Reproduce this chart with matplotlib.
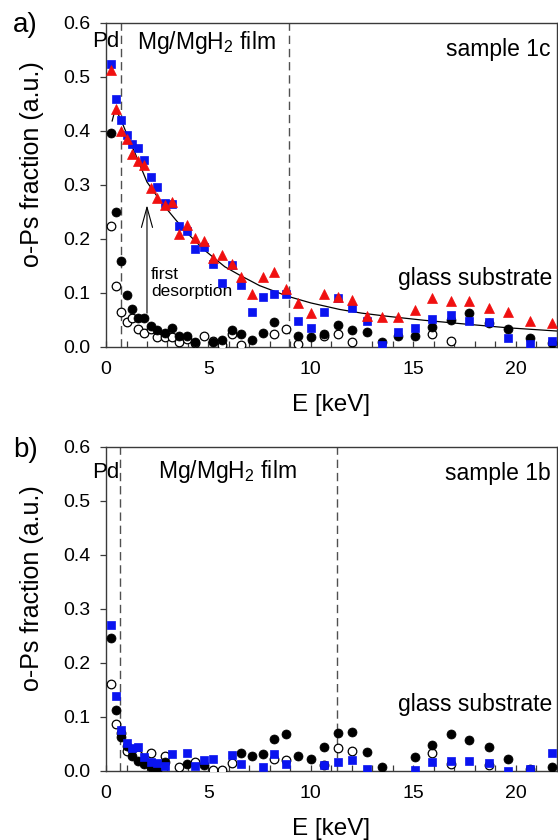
import numpy as np
import matplotlib
matplotlib.use("Agg")
import matplotlib.pyplot as plt
from matplotlib.ticker import MultipleLocator

plt.rcParams['font.family'] = ['Liberation Sans', 'DejaVu Sans']
plt.rcParams['mathtext.fontset'] = 'custom'
plt.rcParams['mathtext.rm'] = 'Liberation Sans'
plt.rcParams['mathtext.it'] = 'Liberation Sans:italic'

nan = np.nan

# positron implantation energies (keV)
energy = [0.23, 0.47, 0.75, 1.00, 1.25, 1.58, 1.87, 2.18, 2.51, 2.88,
          3.21, 3.57, 3.97, 4.35, 4.79, 5.23, 5.67, 6.14, 6.61, 7.12,
          7.66, 8.21, 8.78, 9.37, 10.00, 10.63, 11.31, 11.99, 12.74, 13.48,
          14.26, 15.08, 15.94, 16.82, 17.74, 18.70, 19.65, 20.68, 21.76]

# sample 1c
s1c_blue = [0.524, 0.459, 0.420, 0.392, 0.376, 0.368, 0.346, 0.315, 0.296, 0.266,
            0.264, 0.224, 0.215, 0.181, 0.184, 0.153, 0.118, 0.151, 0.114, 0.064,
            0.092, 0.098, 0.097, 0.048, 0.034, 0.065, 0.090, 0.072, 0.048, 0.004,
            0.027, 0.034, 0.051, 0.059, 0.048, 0.046, 0.016, 0.005, 0.011]
s1c_red = [0.513, 0.440, 0.399, 0.385, 0.357, 0.343, 0.336, 0.293, 0.275, 0.262,
           0.267, 0.209, 0.226, 0.201, 0.195, 0.164, 0.170, 0.153, 0.129, 0.097,
           0.129, 0.138, 0.107, 0.080, 0.062, 0.097, 0.092, 0.086, 0.056, 0.055,
           0.055, 0.067, 0.090, 0.085, 0.085, 0.071, 0.064, 0.048, 0.043]
s1c_black = [0.396, 0.250, 0.159, 0.096, 0.069, 0.054, 0.053, 0.038, 0.030, 0.025,
             0.034, 0.019, 0.019, 0.009, nan, 0.008, 0.012, 0.031, 0.023, 0.013,
             0.025, 0.045, nan, 0.020, 0.017, 0.024, 0.040, 0.031, 0.027, 0.008,
             0.019, 0.020, 0.037, 0.050, 0.062, 0.043, 0.032, 0.016, 0.007]
s1c_open = [0.223, 0.113, 0.065, 0.045, 0.053, 0.032, 0.025, 0.033, 0.017, 0.017,
            0.017, 0.009, 0.014, 0.006, 0.020, 0.011, 0.003, 0.024, 0.003, nan,
            nan, 0.024, 0.033, 0.005, nan, 0.020, 0.024, 0.008, nan, nan,
            nan, nan, 0.024, 0.011, nan, nan, nan, nan, nan]

# model curve for sample 1c
fit_energy = [0.30, 0.45, 0.70, 1.00, 1.40, 2.00, 2.50, 2.90, 3.40, 4.00, 4.80, 5.80,
              6.50, 7.50, 8.90, 10.00, 11.40, 12.50, 13.80, 15.50, 17.50, 19.60, 22.00]
fit_value = [0.418, 0.440, 0.423, 0.395, 0.360, 0.305, 0.278, 0.258, 0.235, 0.209, 0.179, 0.148,
             0.133, 0.113, 0.093, 0.081, 0.069, 0.062, 0.056, 0.049, 0.042, 0.035, 0.029]

# sample 1b
s1b_blue = [0.269, 0.139, 0.076, 0.051, 0.042, 0.043, 0.026, 0.017, 0.014, 0.008,
            0.031, nan, 0.032, 0.008, 0.020, 0.022, nan, 0.029, 0.012, nan,
            0.006, 0.031, 0.012, nan, nan, 0.011, 0.016, 0.020, 0.003, nan,
            nan, 0.002, 0.017, 0.018, 0.018, 0.014, 0.000, 0.003, 0.032]
s1b_black = [0.246, 0.113, 0.063, 0.045, 0.027, 0.018, 0.012, 0.006, 0.001, 0.017,
             nan, nan, 0.012, nan, 0.010, nan, nan, nan, 0.032, 0.027,
             0.031, 0.059, 0.068, 0.027, 0.021, 0.044, 0.069, 0.072, 0.034, 0.006,
             nan, 0.025, 0.048, 0.068, 0.057, 0.043, 0.022, 0.004, 0.006]
s1b_open = [0.160, 0.087, 0.069, 0.037, 0.038, 0.030, nan, 0.032, nan, 0.028,
            nan, 0.006, nan, 0.017, nan, 0.002, 0.002, 0.014, nan, nan,
            nan, 0.021, 0.020, nan, nan, 0.010, 0.042, 0.037, nan, nan,
            nan, nan, 0.032, 0.012, nan, 0.010, nan, nan, nan]

BLUE = '#0a14f0'
RED = '#f01010'
SPINE = '#3a3a3a'

fig = plt.figure(figsize=(5.58, 8.40), dpi=100)
ax_a = fig.add_axes([0.190, 0.5873, 0.8075, 0.3857])
ax_b = fig.add_axes([0.190, 0.0825, 0.8075, 0.3857])


def style_axes(ax):
    ax.set_xlim(0, 22)
    ax.set_ylim(0, 0.6)
    ax.xaxis.set_major_locator(MultipleLocator(5))
    ax.xaxis.set_minor_locator(MultipleLocator(1))
    ax.yaxis.set_major_locator(MultipleLocator(0.1))
    ax.yaxis.set_major_formatter(plt.FormatStrFormatter('%.1f'))
    ax.tick_params(axis='x', which='both', direction='in', length=4, width=0.9,
                   color=SPINE, labelsize=14, pad=10)
    ax.tick_params(axis='y', which='major', direction='out', length=4.5, width=0.9,
                   color=SPINE, labelsize=14, pad=7)
    for sp in ax.spines.values():
        sp.set_color(SPINE)
        sp.set_linewidth(1.0)
    ax.set_xlabel('E [keV]', fontsize=17.5, va='center')
    ax.xaxis.set_label_coords(0.5, -0.18)
    ax.set_ylabel('o-Ps fraction (a.u.)', fontsize=18, va='center')
    ax.yaxis.set_label_coords(-0.165, 0.563)


def scatter_series(ax, blue=None, red=None, black=None, opn=None):
    if opn is not None:
        ax.plot(energy, opn, ls='none', marker='o', ms=6.2, mfc='white',
                mec='black', mew=0.9, zorder=3)
    if black is not None:
        ax.plot(energy, black, ls='none', marker='o', ms=6.5, mfc='black',
                mec='black', mew=0.5, zorder=4)
    if blue is not None:
        ax.plot(energy, blue, ls='none', marker='s', ms=6.0, mfc=BLUE,
                mec=BLUE, mew=0.5, zorder=5)
    if red is not None:
        ax.plot(energy, red, ls='none', marker='^', ms=7.2, mfc=RED,
                mec=RED, mew=0.5, zorder=6)


dash = (0, (6, 3.5))

# ---- a) sample 1c
style_axes(ax_a)
ax_a.axvline(0.73, color='#505050', lw=1.0, ls=dash, zorder=1)
ax_a.axvline(8.94, color='#505050', lw=1.0, ls=dash, zorder=1)
ax_a.plot(fit_energy, fit_value, color='black', lw=0.9, zorder=2)
scatter_series(ax_a, s1c_blue, s1c_red, s1c_black, s1c_open)
ax_a.annotate('', xy=(2.0, 0.262), xytext=(2.0, 0.062),
              arrowprops=dict(arrowstyle='->,head_length=1.45,head_width=0.4',
                              lw=0.8, color='black', shrinkA=0, shrinkB=0,
                              mutation_scale=10), zorder=7)
ax_a.text(2.2, 0.118, 'first\ndesorption', fontsize=12.5, ha='left', va='center',
          linespacing=1.1)
ax_a.text(0.0, 0.565, 'Pd', fontsize=16, ha='center', va='center')
ax_a.text(4.9, 0.563, 'Mg/MgH$_2$ film', fontsize=16.5, ha='center', va='center')
ax_a.text(21.7, 0.55, 'sample 1c', fontsize=16.5, ha='right', va='center')
ax_a.text(21.8, 0.127, 'glass substrate', fontsize=16.5, ha='right', va='center')

# ---- b) sample 1b
style_axes(ax_b)
ax_b.axvline(0.68, color='#505050', lw=1.0, ls=dash, zorder=1)
ax_b.axvline(11.26, color='#505050', lw=1.0, ls=dash, zorder=1)
scatter_series(ax_b, blue=s1b_blue, black=s1b_black, opn=s1b_open)
ax_b.text(0.0, 0.553, 'Pd', fontsize=16, ha='center', va='center')
ax_b.text(5.9, 0.555, 'Mg/MgH$_2$ film', fontsize=16.5, ha='center', va='center')
ax_b.text(21.7, 0.55, 'sample 1b', fontsize=16.5, ha='right', va='center')
ax_b.text(21.8, 0.122, 'glass substrate', fontsize=16.5, ha='right', va='center')

fig.text(0.023, 0.970, 'a)', fontsize=20, ha='left', va='center')
fig.text(0.023, 0.464, 'b)', fontsize=20, ha='left', va='center')

fig.savefig('out.png', dpi=100, facecolor='white')
